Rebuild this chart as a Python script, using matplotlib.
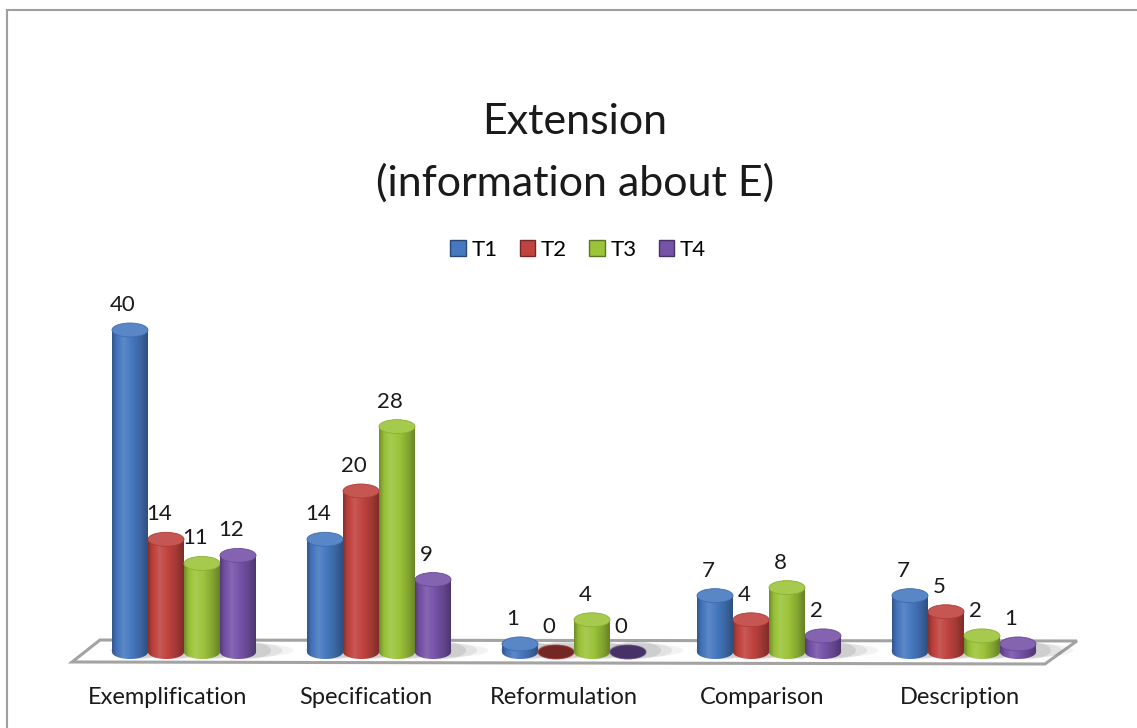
import numpy as np
import matplotlib.pyplot as plt
from matplotlib.patches import Ellipse, Polygon, PathPatch, Rectangle
from matplotlib.path import Path
from matplotlib.lines import Line2D
import matplotlib.colors as mcolors

FONT = ['Lato', 'DejaVu Sans']
plt.rcParams['font.family'] = FONT

categories = ['Exemplification', 'Specification', 'Reformulation', 'Comparison', 'Description']
series = ['T1', 'T2', 'T3', 'T4']
t1 = [40, 14, 1, 7, 7]
t2 = [14, 20, 0, 4, 5]
t3 = [11, 28, 4, 8, 2]
t4 = [12, 9, 0, 2, 1]
values = [t1, t2, t3, t4]
colors = ['#4678c0', '#c0433f', '#9cc43a', '#7653a8']

W, H = 1137, 728
fig = plt.figure(figsize=(W / 100, H / 100), dpi=100)
ax = fig.add_axes([0, 0, 1, 1])
ax.axis('off')

# one x unit = one category slot, one y unit = one count
px_x, px_y = 195.0, 8.05
x_left = -184 / px_x
y_bottom = -76 / px_y
ax.set_xlim(x_left, x_left + W / px_x)
ax.set_ylim(y_bottom, y_bottom + H / px_y)

bar_w = 36 / px_x
half_h = 7 / px_y          # half height of the elliptical caps


def shade(c, m):
    c = np.array(mcolors.to_rgb(c))
    if m >= 1:
        return c + (1 - c) * (m - 1)
    return c * m


# brightness profile across a cylinder, left to right
prof_t = [0.0, 0.12, 0.32, 0.55, 0.8, 1.0]
prof_m = [0.72, 0.95, 1.12, 1.0, 0.84, 0.66]
tt = np.linspace(0, 1, 64)
mm = np.interp(tt, prof_t, prof_m)

# floor slab
floor = Polygon([(-0.431, 1.49), (4.579, 1.37), (4.415, -1.49), (-0.574, -1.24)],
                closed=True, facecolor='white', edgecolor='#a3a3a3', lw=2.2, zorder=1)
ax.add_patch(floor)

# soft shadows on the floor
for g in range(len(categories)):
    for s in range(len(series)):
        xc = g + (s - 1.5) * bar_w
        for k, a in enumerate([0.14, 0.10, 0.07]):
            ax.add_patch(Ellipse((xc + 0.04 + k * 0.025, 0.2), bar_w * (1.4 + 0.35 * k),
                                 2.2 - 0.3 * k, facecolor='#555555', alpha=a,
                                 edgecolor='none', zorder=1.5))

theta = np.linspace(np.pi, 2 * np.pi, 40)
for g in range(len(categories)):
    for s in range(len(series)):
        v = values[s][g]
        col = colors[s]
        xc = g + (s - 1.5) * bar_w
        x0, x1 = xc - bar_w / 2, xc + bar_w / 2
        z = 3 + s * 0.1
        if v > 0:
            bx = xc + bar_w / 2 * np.cos(theta)
            by = half_h * np.sin(theta)
            verts = [(x0, v)] + list(zip(bx, by)) + [(x1, v), (x0, v)]
            codes = [Path.MOVETO] + [Path.LINETO] * (len(verts) - 2) + [Path.CLOSEPOLY]
            body = PathPatch(Path(verts, codes), transform=ax.transData,
                             facecolor='none', edgecolor='none')
            img = np.array([[shade(col, m) for m in mm]])
            im = ax.imshow(img, extent=[x0, x1, -half_h, v], aspect='auto',
                           interpolation='bilinear', zorder=z)
            im.set_clip_path(body)
            top_col = shade(col, 1.1)
        else:
            top_col = shade(col, 0.6)
        ax.add_patch(Ellipse((xc, v), bar_w, 2 * half_h, facecolor=top_col,
                             edgecolor=shade(col, 0.9), lw=0.6, zorder=z + 0.05))
        ax.text(xc - 0.036, v + 3.1, str(v), ha='center', va='center',
                fontsize=16, color='#1a1a1a', zorder=10)

# category labels, shifted slightly by the perspective
for g, cat in enumerate(categories):
    ax.text(g - (16 - 3 * g) / px_x, -46 / px_y, cat, ha='center', va='center',
            fontsize=17, color='#1a1a1a')

ax.set_xlim(x_left, x_left + W / px_x)
ax.set_ylim(y_bottom, y_bottom + H / px_y)

fig.text(575 / W, 1 - 122 / H, 'Extension', ha='center', va='center',
         fontsize=31, color='#1a1a1a')
fig.text(575 / W, 1 - 183 / H, '(information about E)', ha='center', va='center',
         fontsize=31, color='#1a1a1a')

handles = [Rectangle((0, 0), 1, 1, facecolor=shade(c, 1.0), edgecolor=shade(c, 0.6), lw=1)
           for c in colors]
fig.legend(handles, series, loc='center', bbox_to_anchor=(578 / W, 1 - 250 / H),
           ncol=4, frameon=False, fontsize=16, handlelength=0.7, handleheight=0.7,
           handletextpad=0.25, columnspacing=1.0)

# chart frame
fig.add_artist(Line2D([7 / W, 7 / W], [0, 1 - 10 / H], transform=fig.transFigure,
                      color='#a0a0a0', lw=1.5))
fig.add_artist(Line2D([7 / W, 1], [1 - 10 / H, 1 - 10 / H], transform=fig.transFigure,
                      color='#a0a0a0', lw=1.5))

fig.savefig('out.png', dpi=100)
